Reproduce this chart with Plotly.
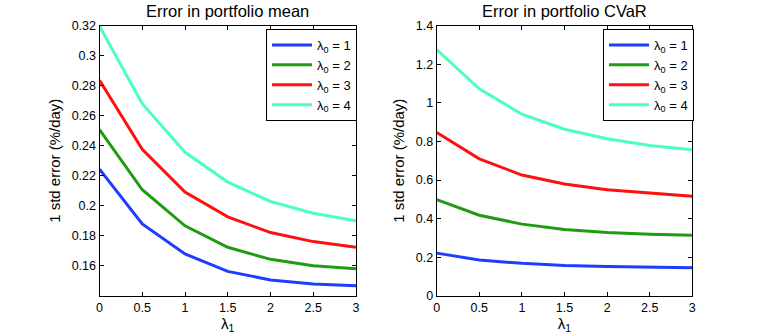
import plotly.graph_objects as go

lam1 = [0, 0.5, 1, 1.5, 2, 2.5, 3]
lam0_labels = ["λ<sub>0</sub> = 1", "λ<sub>0</sub> = 2", "λ<sub>0</sub> = 3", "λ<sub>0</sub> = 4"]
colors = ["#1f3dff", "#1f9c12", "#ff1010", "#4dffbf"]

# error in portfolio mean
mean_l1 = [0.2244, 0.188, 0.168, 0.1564, 0.1507, 0.148, 0.1469]
mean_l2 = [0.2507, 0.2107, 0.1867, 0.1724, 0.1644, 0.1602, 0.1582]
mean_l3 = [0.2836, 0.2376, 0.2091, 0.1927, 0.1822, 0.1762, 0.1724]
mean_l4 = [0.3195, 0.268, 0.2356, 0.2158, 0.2029, 0.1951, 0.19]

# error in portfolio CVaR
cvar_l1 = [0.222, 0.186, 0.169, 0.158, 0.153, 0.148, 0.146]
cvar_l2 = [0.499, 0.418, 0.372, 0.344, 0.329, 0.320, 0.315]
cvar_l3 = [0.846, 0.710, 0.626, 0.580, 0.550, 0.533, 0.516]
cvar_l4 = [1.275, 1.072, 0.941, 0.863, 0.814, 0.779, 0.757]

W, H = 765, 334
font = "Liberation Sans, Arial, sans-serif"


def px(x):
    return x / W


def py(y):
    return 1 - y / H


fig = go.Figure()

for ys, name, c in zip([mean_l1, mean_l2, mean_l3, mean_l4], lam0_labels, colors):
    fig.add_trace(go.Scatter(x=lam1, y=ys, mode="lines", name=name,
                             line=dict(color=c, width=3), xaxis="x", yaxis="y",
                             legend="legend"))
for ys, name, c in zip([cvar_l1, cvar_l2, cvar_l3, cvar_l4], lam0_labels, colors):
    fig.add_trace(go.Scatter(x=lam1, y=ys, mode="lines", name=name,
                             line=dict(color=c, width=3), xaxis="x2", yaxis="y2",
                             legend="legend2"))

ax = dict(showline=True, linecolor="black", linewidth=1, mirror="ticks",
          ticks="inside", ticklen=4, tickcolor="black", showgrid=False,
          zeroline=False, automargin=False, tickfont=dict(size=12.5, color="black"))

xticks = ["0", "0.5", "1", "1.5", "2", "2.5", "3"]
yd = [py(296), py(25.5)]
fig.update_layout(
    width=W, height=H,
    margin=dict(l=0, r=0, t=0, b=0),
    paper_bgcolor="white", plot_bgcolor="white",
    font=dict(family=font, color="black", size=12),
    showlegend=True,
    xaxis=dict(ax, domain=[px(99.5), px(356)], range=[0, 3], anchor="y",
               tickvals=lam1, ticktext=xticks,
               title=dict(text="λ<sub>1</sub>", standoff=0, font=dict(size=15))),
    yaxis=dict(ax, domain=yd, range=[0.14, 0.32], anchor="x",
               tickvals=[0.16, 0.18, 0.2, 0.22, 0.24, 0.26, 0.28, 0.3, 0.32],
               title=dict(text="1 std error (%/day)", standoff=7, font=dict(size=15))),
    xaxis2=dict(ax, domain=[px(436.7), px(692.3)], range=[0, 3], anchor="y2",
                tickvals=lam1, ticktext=xticks,
                title=dict(text="λ<sub>1</sub>", standoff=0, font=dict(size=15))),
    yaxis2=dict(ax, domain=yd, range=[0, 1.4], anchor="x2",
                tickvals=[0, 0.2, 0.4, 0.6, 0.8, 1, 1.2, 1.4],
                title=dict(text="1 std error (%/day)", standoff=7, font=dict(size=15))),
    legend=dict(x=px(266), y=py(29), xanchor="left", yanchor="top",
                bgcolor="white", bordercolor="black", borderwidth=1,
                font=dict(size=13), itemwidth=40, tracegroupgap=0),
    legend2=dict(x=px(603), y=py(29), xanchor="left", yanchor="top",
                 bgcolor="white", bordercolor="black", borderwidth=1,
                 font=dict(size=13), itemwidth=40, tracegroupgap=0),
    annotations=[
        dict(text="Error in portfolio mean", x=px(227.5), y=py(11), xref="paper",
             yref="paper", showarrow=False, font=dict(size=16.5),
             xanchor="center", yanchor="middle"),
        dict(text="Error in portfolio CVaR", x=px(564.5), y=py(11), xref="paper",
             yref="paper", showarrow=False, font=dict(size=16.5),
             xanchor="center", yanchor="middle"),
    ],
)

# drop the browser's default 8px body margin so the figure sits at the page origin
fig.write_html("out.html", config={"displayModeBar": False},
               post_script="document.body.style.margin = '0';")
